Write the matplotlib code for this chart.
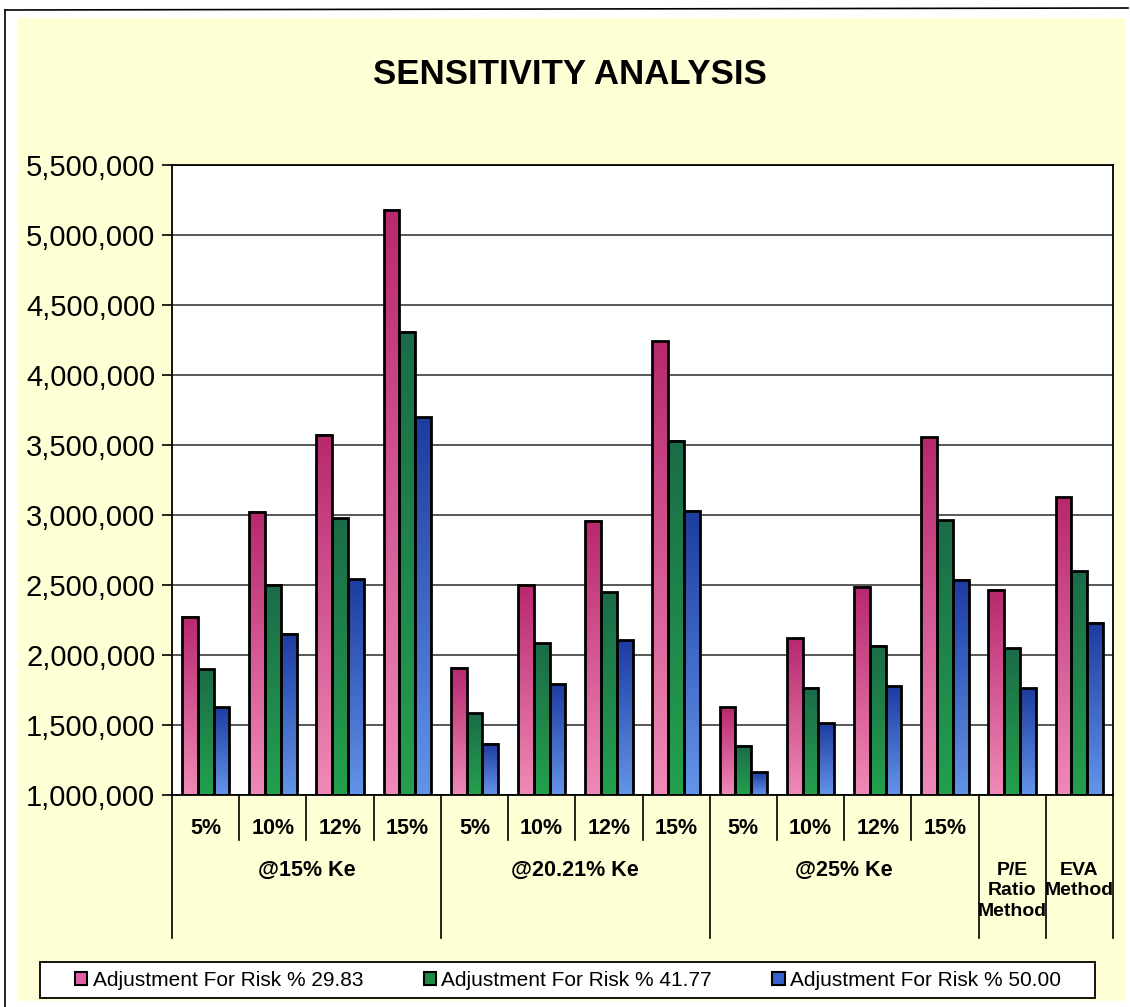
import numpy as np
import matplotlib
matplotlib.use("Agg")
import matplotlib.pyplot as plt
from matplotlib.colors import LinearSegmentedColormap
from matplotlib.patches import Rectangle
from matplotlib.lines import Line2D
from matplotlib.ticker import FuncFormatter, MultipleLocator

plt.rcParams['font.family'] = ['Liberation Sans', 'DejaVu Sans']

# --- data ---
rates = ['5%', '10%', '12%', '15%']
groups = ['@15% Ke', '@20.21% Ke', '@25% Ke']
methods = ['P/E\nRatio\nMethod', 'EVA\nMethod']
series_names = ['Adjustment For Risk % 29.83',
                'Adjustment For Risk % 41.77',
                'Adjustment For Risk % 50.00']

risk_2983 = [2272000, 3024000, 3573000, 5182000,
             1910000, 2503000, 2958000, 4240000,
             1626000, 2121000, 2488000, 3555000,
             2465000, 3128000]
risk_4177 = [1898000, 2500000, 2976000, 4308000,
             1585000, 2083000, 2450000, 3529000,
             1351000, 1766000, 2067000, 2962000,
             2048000, 2597000]
risk_5000 = [1626000, 2152000, 2540000, 3697000,
             1365000, 1792000, 2107000, 3031000,
             1161000, 1512000, 1777000, 2536000,
             1763000, 2230000]

# gradient (top colour, bottom colour) per series
grads = [('#b8286e', '#f08ab8'),
         ('#1a6c48', '#24a04e'),
         ('#1c3c9f', '#6494ea')]
legend_cols = ['#e060a8', '#1f8a45', '#3a62cc']

W, H = 1130, 1007
fig = plt.figure(figsize=(W / 100, H / 100), dpi=100)
fig.patch.set_facecolor('white')

# yellow chart area and scan border
fig.add_artist(Rectangle((18 / W, 6 / H), 1107 / W, 983 / H,
                         transform=fig.transFigure, facecolor='#ffffd6',
                         edgecolor='none', zorder=-10))
fig.add_artist(Line2D([5 / W, 5 / W], [0, 997 / H], transform=fig.transFigure,
                      color='black', lw=1.2))
fig.add_artist(Line2D([5 / W, 1128 / W], [997 / H, 999 / H], transform=fig.transFigure,
                      color='black', lw=1.2))

ax = fig.add_axes([172 / W, 1 - 795 / H, 941 / W, 630 / H])
ax.set_facecolor('white')

n = len(risk_2983)
x = np.arange(n)
bw = 0.235
all_series = [risk_2983, risk_4177, risk_5000]
ybase = 1000000

grad_img = np.linspace(0, 1, 256).reshape(-1, 1)
for i, vals in enumerate(all_series):
    cmap = LinearSegmentedColormap.from_list('g%d' % i, [grads[i][1], grads[i][0]])
    bars = ax.bar(x + (i - 1) * bw, np.array(vals) - ybase, bw, bottom=ybase,
                  facecolor='none', edgecolor='black', linewidth=2.0, zorder=3)
    for b in bars:
        x0, y0 = b.get_x(), b.get_y()
        ax.imshow(grad_img, extent=[x0, x0 + b.get_width(), y0, y0 + b.get_height()],
                  origin='lower', cmap=cmap, aspect='auto', zorder=2,
                  interpolation='bilinear')

ax.set_xlim(-0.5, n - 0.5)
ax.set_ylim(1000000, 5500000)
ax.yaxis.set_major_locator(MultipleLocator(500000))
ax.yaxis.set_major_formatter(FuncFormatter(lambda v, p: '{:,.0f}'.format(v)))
ax.grid(axis='y', color='#2a2a2a', lw=1.1, zorder=1)
ax.set_axisbelow(True)
ax.tick_params(axis='y', labelsize=21, direction='out', length=7, width=1.2,
               pad=5, colors='black')
ax.set_xticks([])
for s in ax.spines.values():
    s.set_color('black')
    s.set_linewidth(1.3)

# multi-level category axis
tr = ax.get_xaxis_transform()
ah = 630.0
sub_y = -33 / ah
grp_y = -75 / ah
sub_line = -45 / ah
grp_line = -143 / ah
lab_kw = dict(transform=tr, ha='center', va='center', fontsize=15.5,
              fontweight='bold', clip_on=False)
for gi, g in enumerate(groups):
    for ri, r in enumerate(rates):
        k = gi * len(rates) + ri
        ax.text(k, sub_y, r, **lab_kw)
        if ri > 0:
            ax.plot([k - 0.5, k - 0.5], [0, sub_line], transform=tr, color='black',
                    lw=1.2, clip_on=False)
    start = gi * len(rates) - 0.5
    ax.plot([start, start], [0, grp_line], transform=tr, color='black', lw=1.2,
            clip_on=False)
    ax.text(start + len(rates) / 2, grp_y, g, **lab_kw)

for mi, m in enumerate(methods):
    k = len(groups) * len(rates) + mi
    ax.plot([k - 0.5, k - 0.5], [0, grp_line], transform=tr, color='black', lw=1.2,
            clip_on=False)
    ax.text(k, grp_y + 8 / ah, m, transform=tr, ha='center', va='top', fontsize=14,
            fontweight='bold', linespacing=1.25, clip_on=False)
ax.plot([n - 0.5, n - 0.5], [0, grp_line], transform=tr, color='black', lw=1.2,
        clip_on=False)

fig.text(570 / W, 1 - 75 / H, 'SENSITIVITY ANALYSIS', ha='center', va='center',
         fontsize=25, fontweight='bold')

# legend: frame drawn separately so entries can sit like the original
fig.add_artist(Rectangle((40 / W, 1 - 998 / H), 1055 / W, 36 / H,
                         transform=fig.transFigure, facecolor='white',
                         edgecolor='black', lw=1.3, zorder=5))
handles = [Rectangle((0, 0), 1, 1, facecolor=c, edgecolor='black', lw=1.5)
           for c in legend_cols]
leg = fig.legend(handles, series_names, loc='center', ncol=3,
                 bbox_to_anchor=(568 / W, 1 - 980 / H),
                 fontsize=15, frameon=False, handlelength=0.6,
                 handleheight=0.6, handletextpad=0.25, columnspacing=2.9,
                 borderaxespad=0, borderpad=0)
leg.set_zorder(6)

fig.savefig('out.png', dpi=100, facecolor=fig.get_facecolor())
